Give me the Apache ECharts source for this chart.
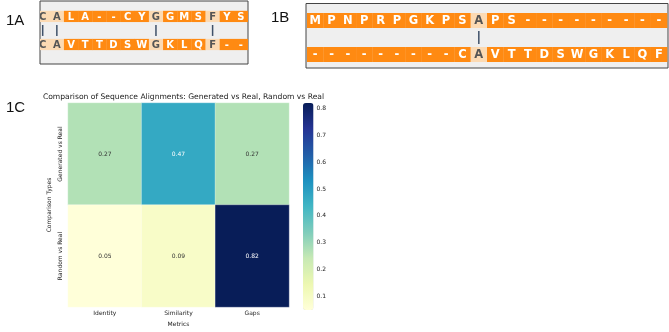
<!DOCTYPE html>
<html>
<head>
<meta charset="utf-8">
<title>Sequence alignments</title>
<script src="https://cdn.jsdelivr.net/npm/echarts@6/dist/echarts.min.js"></script>
</head>
<body style="margin:0">
<div id="box" style="width:669px;height:332px;"></div>
<script>
// alignments (top row / bottom row)
var seqA1 = 'CALA--CYGGMSFYS'.split('')
var seqA2 = 'CAVTTDSWGKLQF--'.split('')
var seqB1 = 'MPNPRPGKPSAPS---------'.split('')
var seqB2 = '---------CAVTTDSWGKLQF'.split('')

// heatmap
var metrics = ['Identity', 'Similarity', 'Gaps']
var comparisons = ['Generated vs Real', 'Random vs Real']
var generatedVsReal = [0.27, 0.47, 0.27]
var randomVsReal = [0.05, 0.09, 0.82]
var colorbarTicks = [0.1, 0.2, 0.3, 0.4, 0.5, 0.6, 0.7, 0.8]

var ORANGE = '#ff8a12'
var PEACH = '#fcdab3'
var ylgnbu = ['#ffffd9', '#edf8b1', '#c7e9b4', '#7fcdbb', '#41b6c4', '#1d91c0', '#225ea8', '#253494', '#081d58']

function cells(top, bottom) {
  var out = []
  for (var i = 0; i < top.length; i++) {
    var m = top[i] === bottom[i] && top[i] !== '-' ? 1 : 0
    out.push([i, 0, top[i], m])
    out.push([i, 2, bottom[i], m])
  }
  return out
}
function links(top, bottom) {
  var out = []
  for (var i = 0; i < top.length; i++) {
    if (top[i] === bottom[i] && top[i] !== '-') out.push([i, 1])
  }
  return out
}

function cellRenderer(h, fs) {
  return function (params, api) {
    var c = api.coord([api.value(0), api.value(1)])
    var s = api.size([1, h])
    var m = api.value(3)
    return {
      type: 'group',
      children: [{
        type: 'rect',
        shape: { x: c[0] - s[0] / 2, y: c[1] - s[1] / 2, width: s[0] + 0.3, height: s[1] },
        style: { fill: m ? PEACH : ORANGE }
      }, {
        type: 'text',
        x: c[0], y: c[1] + 0.5,
        style: {
          text: api.value(2), fill: m ? '#555' : '#fff',
          font: 'bold ' + fs + 'px "DejaVu Sans"', align: 'center', verticalAlign: 'middle'
        }
      }]
    }
  }
}
function linkRenderer(h) {
  return function (params, api) {
    var a = api.coord([api.value(0), api.value(1) - h / 2])
    var b = api.coord([api.value(0), api.value(1) + h / 2])
    return {
      type: 'line',
      shape: { x1: a[0], y1: a[1], x2: b[0], y2: b[1] },
      style: { stroke: '#3f5169', lineWidth: 1.5 }
    }
  }
}

var heatData = []
metrics.forEach(function (m, i) {
  heatData.push([i, 0, generatedVsReal[i]])
  heatData.push([i, 1, randomVsReal[i]])
})
heatData = heatData.map(function (d) {
  return { value: d, label: { color: d[2] > 0.4 ? '#fff' : '#333' } }
})

var boxGrid = { show: true, backgroundColor: '#efefef', borderColor: '#444', borderWidth: 1 }
var hidden = { show: false }
var smallText = { fontFamily: 'DejaVu Sans', fontSize: 6, color: '#222' }

var chart = echarts.init(document.getElementById('box'))
var option = {
  animation: false,
  textStyle: { fontFamily: 'DejaVu Sans' },
  title: [
    { text: '1A', left: 1, top: 8, textStyle: { fontFamily: 'Liberation Sans', fontSize: 15, fontWeight: 'normal', color: '#111' } },
    { text: '1B', left: 266, top: 5, textStyle: { fontFamily: 'Liberation Sans', fontSize: 15, fontWeight: 'normal', color: '#111' } },
    { text: '1C', left: 1, top: 95, textStyle: { fontFamily: 'Liberation Sans', fontSize: 15, fontWeight: 'normal', color: '#111' } },
    { text: 'Comparison of Sequence Alignments: Generated vs Real, Random vs Real', left: 178.5, top: 88, textAlign: 'center',
      textStyle: { fontFamily: 'DejaVu Sans', fontSize: 7.6, fontWeight: 'normal', color: '#222' } }
  ],
  grid: [
    Object.assign({ left: 40, top: 1, width: 208, height: 63 }, boxGrid),
    Object.assign({ left: 306, top: 3.5, width: 362, height: 64.5 }, boxGrid),
    { left: 68, top: 103, width: 221, height: 208 },
    { left: 303, top: 103, width: 10.5, height: 207 }
  ],
  xAxis: [
    { gridIndex: 0, type: 'value', min: -0.19, max: 14.5, show: false },
    { gridIndex: 1, type: 'value', min: -0.56, max: 21.56, show: false },
    { gridIndex: 2, type: 'category', data: metrics, axisLine: hidden,
      axisTick: { alignWithLabel: true, length: 2, lineStyle: { color: '#333' } },
      axisLabel: Object.assign({ margin: 3 }, smallText),
      name: 'Metrics', nameLocation: 'middle', nameGap: 14, nameTextStyle: smallText },
    { gridIndex: 3, type: 'value', show: false }
  ],
  yAxis: [
    { gridIndex: 0, type: 'value', inverse: true, min: -1.1, max: 3.39, show: false },
    { gridIndex: 1, type: 'value', inverse: true, min: -1.0, max: 2.79, show: false },
    { gridIndex: 2, type: 'category', data: comparisons, inverse: true, axisLine: hidden,
      axisTick: { alignWithLabel: true, length: 2, lineStyle: { color: '#333' } },
      axisLabel: Object.assign({ rotate: 90, margin: 5 }, smallText),
      name: 'Comparison Types', nameLocation: 'middle', nameGap: 16, nameTextStyle: smallText },
    { gridIndex: 3, type: 'value', position: 'right', min: 0.05, max: 0.82, axisLine: hidden, splitLine: hidden,
      axisTick: { show: true, length: 2, lineStyle: { color: '#333' }, customValues: colorbarTicks },
      axisLabel: Object.assign({ margin: 3, customValues: colorbarTicks }, smallText) }
  ],
  visualMap: {
    type: 'continuous', min: 0.05, max: 0.82, seriesIndex: 4,
    left: 303, top: 103, itemWidth: 10.5, itemHeight: 207, padding: 0,
    calculable: false, text: ['', ''], showLabel: false,
    inRange: { color: ylgnbu }
  },
  series: [
    { type: 'custom', xAxisIndex: 0, yAxisIndex: 0, clip: true, data: cells(seqA1, seqA2), renderItem: cellRenderer(0.8, 10) },
    { type: 'custom', xAxisIndex: 0, yAxisIndex: 0, data: links(seqA1, seqA2), renderItem: linkRenderer(0.78) },
    { type: 'custom', xAxisIndex: 1, yAxisIndex: 1, clip: true, data: cells(seqB1, seqB2), renderItem: cellRenderer(0.88, 11.5) },
    { type: 'custom', xAxisIndex: 1, yAxisIndex: 1, data: links(seqB1, seqB2), renderItem: linkRenderer(0.76) },
    { type: 'heatmap', xAxisIndex: 2, yAxisIndex: 2, data: heatData,
      itemStyle: { borderColor: 'rgba(255,255,255,0.6)', borderWidth: 0.5 },
      label: { show: true, fontSize: 6, fontFamily: 'DejaVu Sans', formatter: function (p) { return p.value[2].toFixed(2) } },
      emphasis: { disabled: true } }
  ]
}
chart.setOption(option)
</script>
</body>
</html>
